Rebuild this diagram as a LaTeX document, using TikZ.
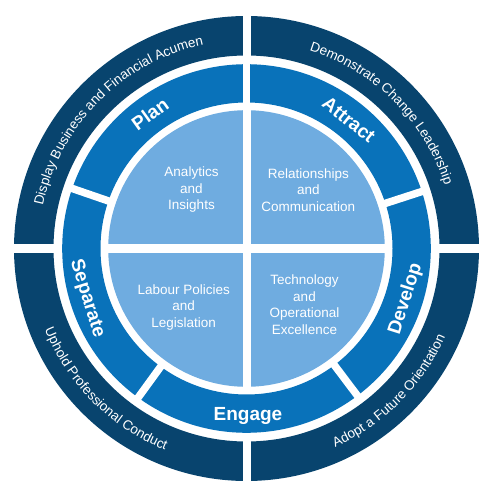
\documentclass[tikz,border=0pt]{standalone}
\usepackage{fontspec}
\setmainfont{Liberation Sans}
\usetikzlibrary{decorations.text}
\definecolor{navy}{RGB}{8,68,110}
\definecolor{midblue}{RGB}{9,114,186}
\definecolor{lightblue}{RGB}{111,172,224}
\newcommand{\outerfont}{\fontsize{13.5}{16}\selectfont\color{white}}
\tikzset{
  ringlabel/.style={text=white, font=\fontsize{19}{22}\selectfont\bfseries, text height=13.7pt, text depth=0pt, inner sep=0pt},
  innerlabel/.style={text=white, font=\fontsize{13.5}{16.5}\selectfont, align=center, inner sep=0pt},
  gapline/.style={white, line width=7.5pt},
  outertext/.style={decorate, decoration={text along path, text align=center, text={|\outerfont|#1}}}
}
\begin{document}
\begin{tikzpicture}[x=1pt,y=1pt]
\useasboundingbox (-246.5,-251.5) rectangle (253.5,248.5);
% outer ring
\fill[navy, even odd rule] (0,0) circle (232.5) (0,0) circle (193);
% inner disk
\fill[lightblue] (0,0) circle (138.3);
% cross gaps through outer ring and inner disk
\fill[white] (-4,-240) rectangle (4,240);
\fill[white] (-240,-4.2) rectangle (240,4.2);
% middle ring
\fill[midblue, even odd rule] (0,0) circle (184.3) (0,0) circle (146);
% middle ring dividers
\coordinate (d1a) at (90:140); \coordinate (d1b) at (90:190);
\coordinate (d2a) at (18:140); \coordinate (d2b) at (18:190);
\coordinate (d3a) at (-53:140); \coordinate (d3b) at (-53:190);
\coordinate (d4a) at (-126:140); \coordinate (d4b) at (-126:190);
\coordinate (d5a) at (161:140); \coordinate (d5b) at (161:190);
\draw[gapline] (d1a) -- (d1b);
\draw[gapline] (d2a) -- (d2b);
\draw[gapline] (d3a) -- (d3b);
\draw[gapline] (d4a) -- (d4b);
\draw[gapline] (d5a) -- (d5b);
% middle ring labels
\node[ringlabel, rotate=35.7] (plan) at (125.7:165.5) {Plan};
\node[ringlabel, rotate=-38.5] (attract) at (51.5:165) {Attract};
\node[ringlabel, rotate=72.5] (develop) at (-17.5:165) {Develop};
\node[ringlabel] (engage) at (-89.5:165) {Engage};
\node[ringlabel, rotate=-72.5] (separate) at (197.5:165) {Separate};
% inner labels
\node[innerlabel] (q1) at (-55,58.5) {Analytics\\and\\Insights};
\node[innerlabel] (q2) at (61.8,58.5) {Relationships\\and\\Communication};
\node[innerlabel] (q3) at (-62.8,-58.8) {Labour Policies\\and\\Legislation};
\node[innerlabel] (q4) at (58,-56.2) {Technology\\and\\Operational\\Excellence};
% outer curved texts
\path[outertext={Display Business and Financial Acumen}] (175:208) arc[start angle=175, end angle=95, radius=208];
\path[outertext={Demonstrate Change Leadership}] (85:208) arc[start angle=85, end angle=5, radius=208];
\path[outertext={Uphold Professional Conduct}] (185:217.5) arc[start angle=185, end angle=265, radius=217.5];
\path[outertext={Adopt a Future Orientation}] (275:217.5) arc[start angle=275, end angle=355, radius=217.5];
\end{tikzpicture}
\end{document}
